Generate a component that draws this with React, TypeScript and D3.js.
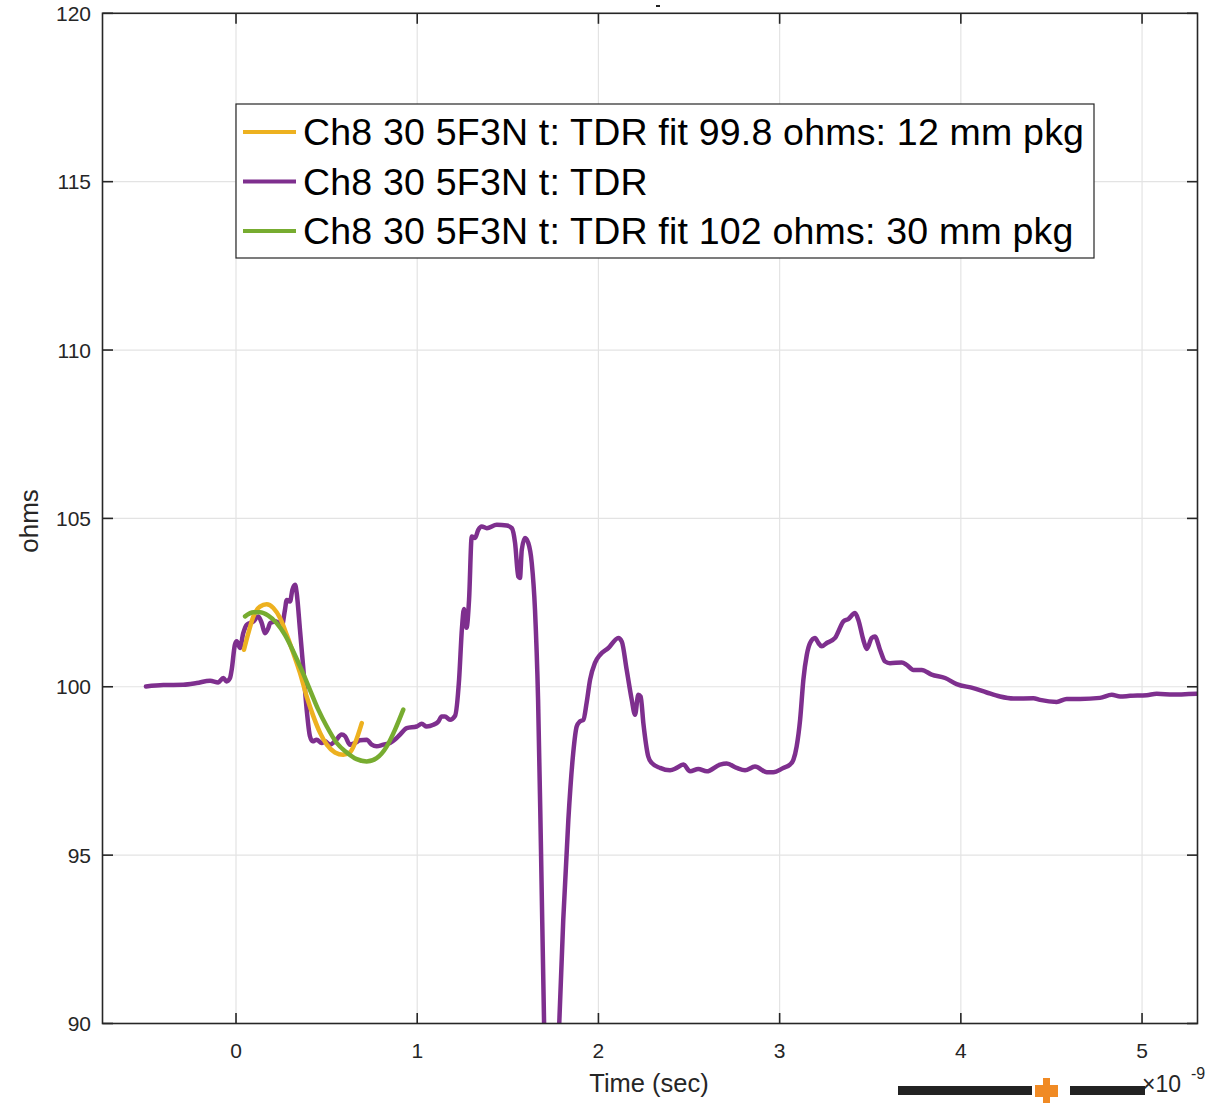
import React from "react";
import * as d3 from "d3";

// time in units of 1e-9 s, impedance in ohms
const tdrTime = [
  -0.497, -0.401, -0.291, -0.217, -0.143, -0.098, -0.07, -0.052, -0.033, -0.024, -0.006, 0.004, 0.022, 0.04,
  0.059, 0.096, 0.123, 0.142, 0.16, 0.178, 0.188, 0.224, 0.252, 0.27, 0.28, 0.298, 0.311, 0.326, 0.335, 0.353,
  0.372, 0.39, 0.408, 0.423, 0.445, 0.473, 0.491, 0.519, 0.546, 0.583, 0.602, 0.629, 0.657, 0.684, 0.721,
  0.749, 0.776, 0.813, 0.85, 0.877, 0.905, 0.942, 0.997, 1.025, 1.052, 1.089, 1.117, 1.135, 1.153, 1.181,
  1.209, 1.231, 1.247, 1.258, 1.272, 1.286, 1.301, 1.319, 1.337, 1.356, 1.384, 1.439, 1.494, 1.522, 1.54,
  1.558, 1.567, 1.577, 1.595, 1.613, 1.632, 1.65, 1.667, 1.683, 1.7, 1.741, 1.784, 1.806, 1.834, 1.861, 1.88,
  1.898, 1.917, 1.935, 1.954, 1.981, 2.009, 2.055, 2.11, 2.129, 2.156, 2.184, 2.202, 2.22, 2.233, 2.248,
  2.275, 2.294, 2.34, 2.395, 2.432, 2.469, 2.506, 2.551, 2.598, 2.671, 2.708, 2.763, 2.809, 2.864, 2.929,
  2.965, 3.02, 3.057, 3.076, 3.094, 3.113, 3.131, 3.15, 3.168, 3.195, 3.214, 3.232, 3.26, 3.306, 3.324,
  3.352, 3.379, 3.416, 3.434, 3.462, 3.481, 3.508, 3.526, 3.554, 3.582, 3.609, 3.674, 3.701, 3.738, 3.784,
  3.839, 3.913, 3.977, 4.069, 4.143, 4.216, 4.29, 4.4, 4.437, 4.529, 4.584, 4.658, 4.768, 4.833, 4.879,
  4.934, 5.026, 5.081, 5.173, 5.302, 5.34,
];
const tdrOhms = [
  100.01, 100.05, 100.06, 100.11, 100.18, 100.13, 100.26, 100.16, 100.26, 100.5, 101.25, 101.35, 101.15, 101.59,
  101.84, 101.94, 102.09, 101.89, 101.59, 101.74, 101.89, 101.94, 101.79, 102.28, 102.58, 102.53, 102.88, 103.03,
  102.78, 101.69, 100.5, 99.32, 98.53, 98.38, 98.43, 98.33, 98.38, 98.28, 98.38, 98.58, 98.53, 98.28, 98.33,
  98.41, 98.43, 98.28, 98.23, 98.28, 98.33, 98.43, 98.58, 98.77, 98.82, 98.9, 98.82, 98.87, 98.97, 99.12,
  99.12, 99.02, 99.14, 100.21, 101.75, 102.31, 101.75, 102.58, 104.46, 104.42, 104.66, 104.76, 104.71, 104.81,
  104.79, 104.71, 104.27, 103.27, 103.23, 104.07, 104.42, 104.27, 103.68, 102.28, 99.61, 95.16, 90.03, 83.0,
  90.03, 93.09, 96.05, 98.04, 98.82, 98.97, 99.02, 99.53, 100.21, 100.71, 100.95, 101.15, 101.45, 101.34,
  100.5, 99.61, 99.17, 99.76, 99.71, 98.92, 97.93, 97.74, 97.59, 97.52, 97.59, 97.69, 97.49, 97.56, 97.49,
  97.69, 97.72, 97.59, 97.52, 97.63, 97.46, 97.46, 97.59, 97.69, 97.83, 98.23, 99.02, 100.21, 100.95, 101.3,
  101.45, 101.3, 101.2, 101.3, 101.45, 101.64, 101.94, 102.01, 102.19, 101.99, 101.39, 101.12, 101.45, 101.49,
  101.1, 100.75, 100.7, 100.72, 100.65, 100.5, 100.5, 100.36, 100.26, 100.08, 99.96, 99.83, 99.71, 99.65,
  99.66, 99.61, 99.55, 99.64, 99.64, 99.67, 99.76, 99.71, 99.73, 99.75, 99.79, 99.77, 99.79, 99.79,
];

const fit12Time = [
  0.044, 0.068, 0.096, 0.132, 0.169, 0.206, 0.243, 0.28, 0.316, 0.353, 0.39, 0.427, 0.464, 0.501, 0.546,
  0.592, 0.629, 0.657, 0.694,
];
const fit12Ohms = [
  101.1, 101.59, 102.09, 102.38, 102.45, 102.34, 102.04, 101.54, 101.0, 100.41, 99.71, 99.12, 98.63, 98.28,
  98.05, 97.98, 98.05, 98.33, 98.92,
];

const fit30Time = [
  0.05, 0.096, 0.132, 0.178, 0.224, 0.27, 0.316, 0.362, 0.408, 0.454, 0.501, 0.556, 0.611, 0.666, 0.721,
  0.776, 0.832, 0.877, 0.923,
];
const fit30Ohms = [
  102.09, 102.21, 102.21, 102.11, 101.89, 101.54, 101.05, 100.5, 99.91, 99.32, 98.82, 98.33, 98.05, 97.85,
  97.78, 97.88, 98.23, 98.72, 99.32,
];

const xTicks = [0, 1, 2, 3, 4, 5];
const yTicks = [90, 95, 100, 105, 110, 115, 120];
const legendLabels = [
  "Ch8 30 5F3N t: TDR fit 99.8 ohms: 12 mm pkg",
  "Ch8 30 5F3N t: TDR",
  "Ch8 30 5F3N t: TDR fit 102 ohms: 30 mm pkg",
];

const W = 1217;
const H = 1103;
const left = 102.5;
const right = 1197.5;
const top = 13.3;
const bottom = 1023.5;

const FONT = "'Liberation Sans', Arial, Helvetica, sans-serif";
const AX = "#262626";
const PURPLE = "#7E2F8E";
const YELLOW = "#EDB120";
const GREEN = "#77AC30";

export default function App() {
  const x = d3.scaleLinear().domain([-0.7368, 5.306]).range([left, right]);
  const y = d3.scaleLinear().domain([90, 120]).range([bottom, top]);

  const line = d3
    .line<[number, number]>()
    .x((d) => x(d[0]))
    .y((d) => y(d[1]))
    .curve(d3.curveMonotoneX);

  const zip = (a: number[], b: number[]) => a.map((t, i) => [t, b[i]] as [number, number]);

  const series = [
    { name: legendLabels[0], color: YELLOW, data: zip(fit12Time, fit12Ohms) },
    { name: legendLabels[1], color: PURPLE, data: zip(tdrTime, tdrOhms) },
    { name: legendLabels[2], color: GREEN, data: zip(fit30Time, fit30Ohms) },
  ];
  // purple is drawn under the two fits
  const drawOrder = [series[1], series[0], series[2]];

  const tickLen = 10.5;

  return (
    <svg
      width={W}
      height={H}
      style={{ position: "absolute", left: 0, top: 0, background: "#fff" }}
      fontFamily={FONT}
    >
      <defs>
        <clipPath id="plotClip">
          <rect x={left} y={top} width={right - left} height={bottom - top} />
        </clipPath>
      </defs>
      <rect x={0} y={0} width={W} height={H} fill="#fff" />

      {/* grid */}
      <g stroke="#e3e3e3" strokeWidth={1.2}>
        {xTicks.map((t) => (
          <line key={"gx" + t} x1={x(t)} x2={x(t)} y1={top} y2={bottom} />
        ))}
        {yTicks.map((v) => (
          <line key={"gy" + v} x1={left} x2={right} y1={y(v)} y2={y(v)} />
        ))}
      </g>

      {/* data */}
      <g clipPath="url(#plotClip)" fill="none" strokeWidth={4.5} strokeLinejoin="round" strokeLinecap="round">
        {drawOrder.map((s) => (
          <path key={s.name} d={line(s.data) || ""} stroke={s.color} />
        ))}
      </g>

      {/* box and ticks */}
      <g stroke={AX} strokeWidth={1.6} fill="none">
        <rect x={left} y={top} width={right - left} height={bottom - top} />
        {xTicks.map((t) => (
          <g key={"tx" + t}>
            <line x1={x(t)} x2={x(t)} y1={bottom} y2={bottom - tickLen} />
            <line x1={x(t)} x2={x(t)} y1={top} y2={top + tickLen} />
          </g>
        ))}
        {yTicks.map((v) => (
          <g key={"ty" + v}>
            <line x1={left} x2={left + tickLen} y1={y(v)} y2={y(v)} />
            <line x1={right} x2={right - tickLen} y1={y(v)} y2={y(v)} />
          </g>
        ))}
      </g>

      {/* tick labels */}
      <g fill={AX} fontSize={21}>
        {xTicks.map((t) => (
          <text key={"lx" + t} x={x(t)} y={1058} textAnchor="middle">
            {t}
          </text>
        ))}
        {yTicks.map((v) => (
          <text key={"ly" + v} x={91} y={y(v) + 7.5} textAnchor="end">
            {v}
          </text>
        ))}
      </g>

      {/* axis labels */}
      <text x={649} y={1092} textAnchor="middle" fontSize={25.5} fill={AX}>
        Time (sec)
      </text>
      <text
        transform={`translate(38,521) rotate(-90)`}
        textAnchor="middle"
        fontSize={26}
        fill={AX}
      >
        ohms
      </text>

      {/* exponent */}
      <text x={1142} y={1092} fontSize={23} fill={AX}>
        ×10
      </text>
      <text x={1191} y={1079} fontSize={16} fill={AX}>
        -9
      </text>

      {/* redaction marks */}
      <rect x={898} y={1086} width={134} height={9} fill="#222" />
      <rect x={1070} y={1086} width={75} height={9} fill="#222" />
      <rect x={1043} y={1078} width={7} height={25} fill="#F08A24" />
      <rect x={1035} y={1085} width={23} height={12} fill="#F08A24" />
      <rect x={656} y={5} width={4} height={2} fill="#222" />

      {/* legend */}
      <g>
        <rect x={236} y={104} width={858} height={154} fill="#fff" stroke={AX} strokeWidth={1.2} />
        {series.map((s, i) => (
          <g key={"lg" + i} transform={`translate(0, ${132 + i * 49.5})`}>
            <line x1={243} x2={296} y1={0} y2={0} stroke={s.color} strokeWidth={4} />
            <text x={303} y={13} fontSize={37.5} letterSpacing={0.2} fill="#000">
              {s.name}
            </text>
          </g>
        ))}
      </g>
    </svg>
  );
}
